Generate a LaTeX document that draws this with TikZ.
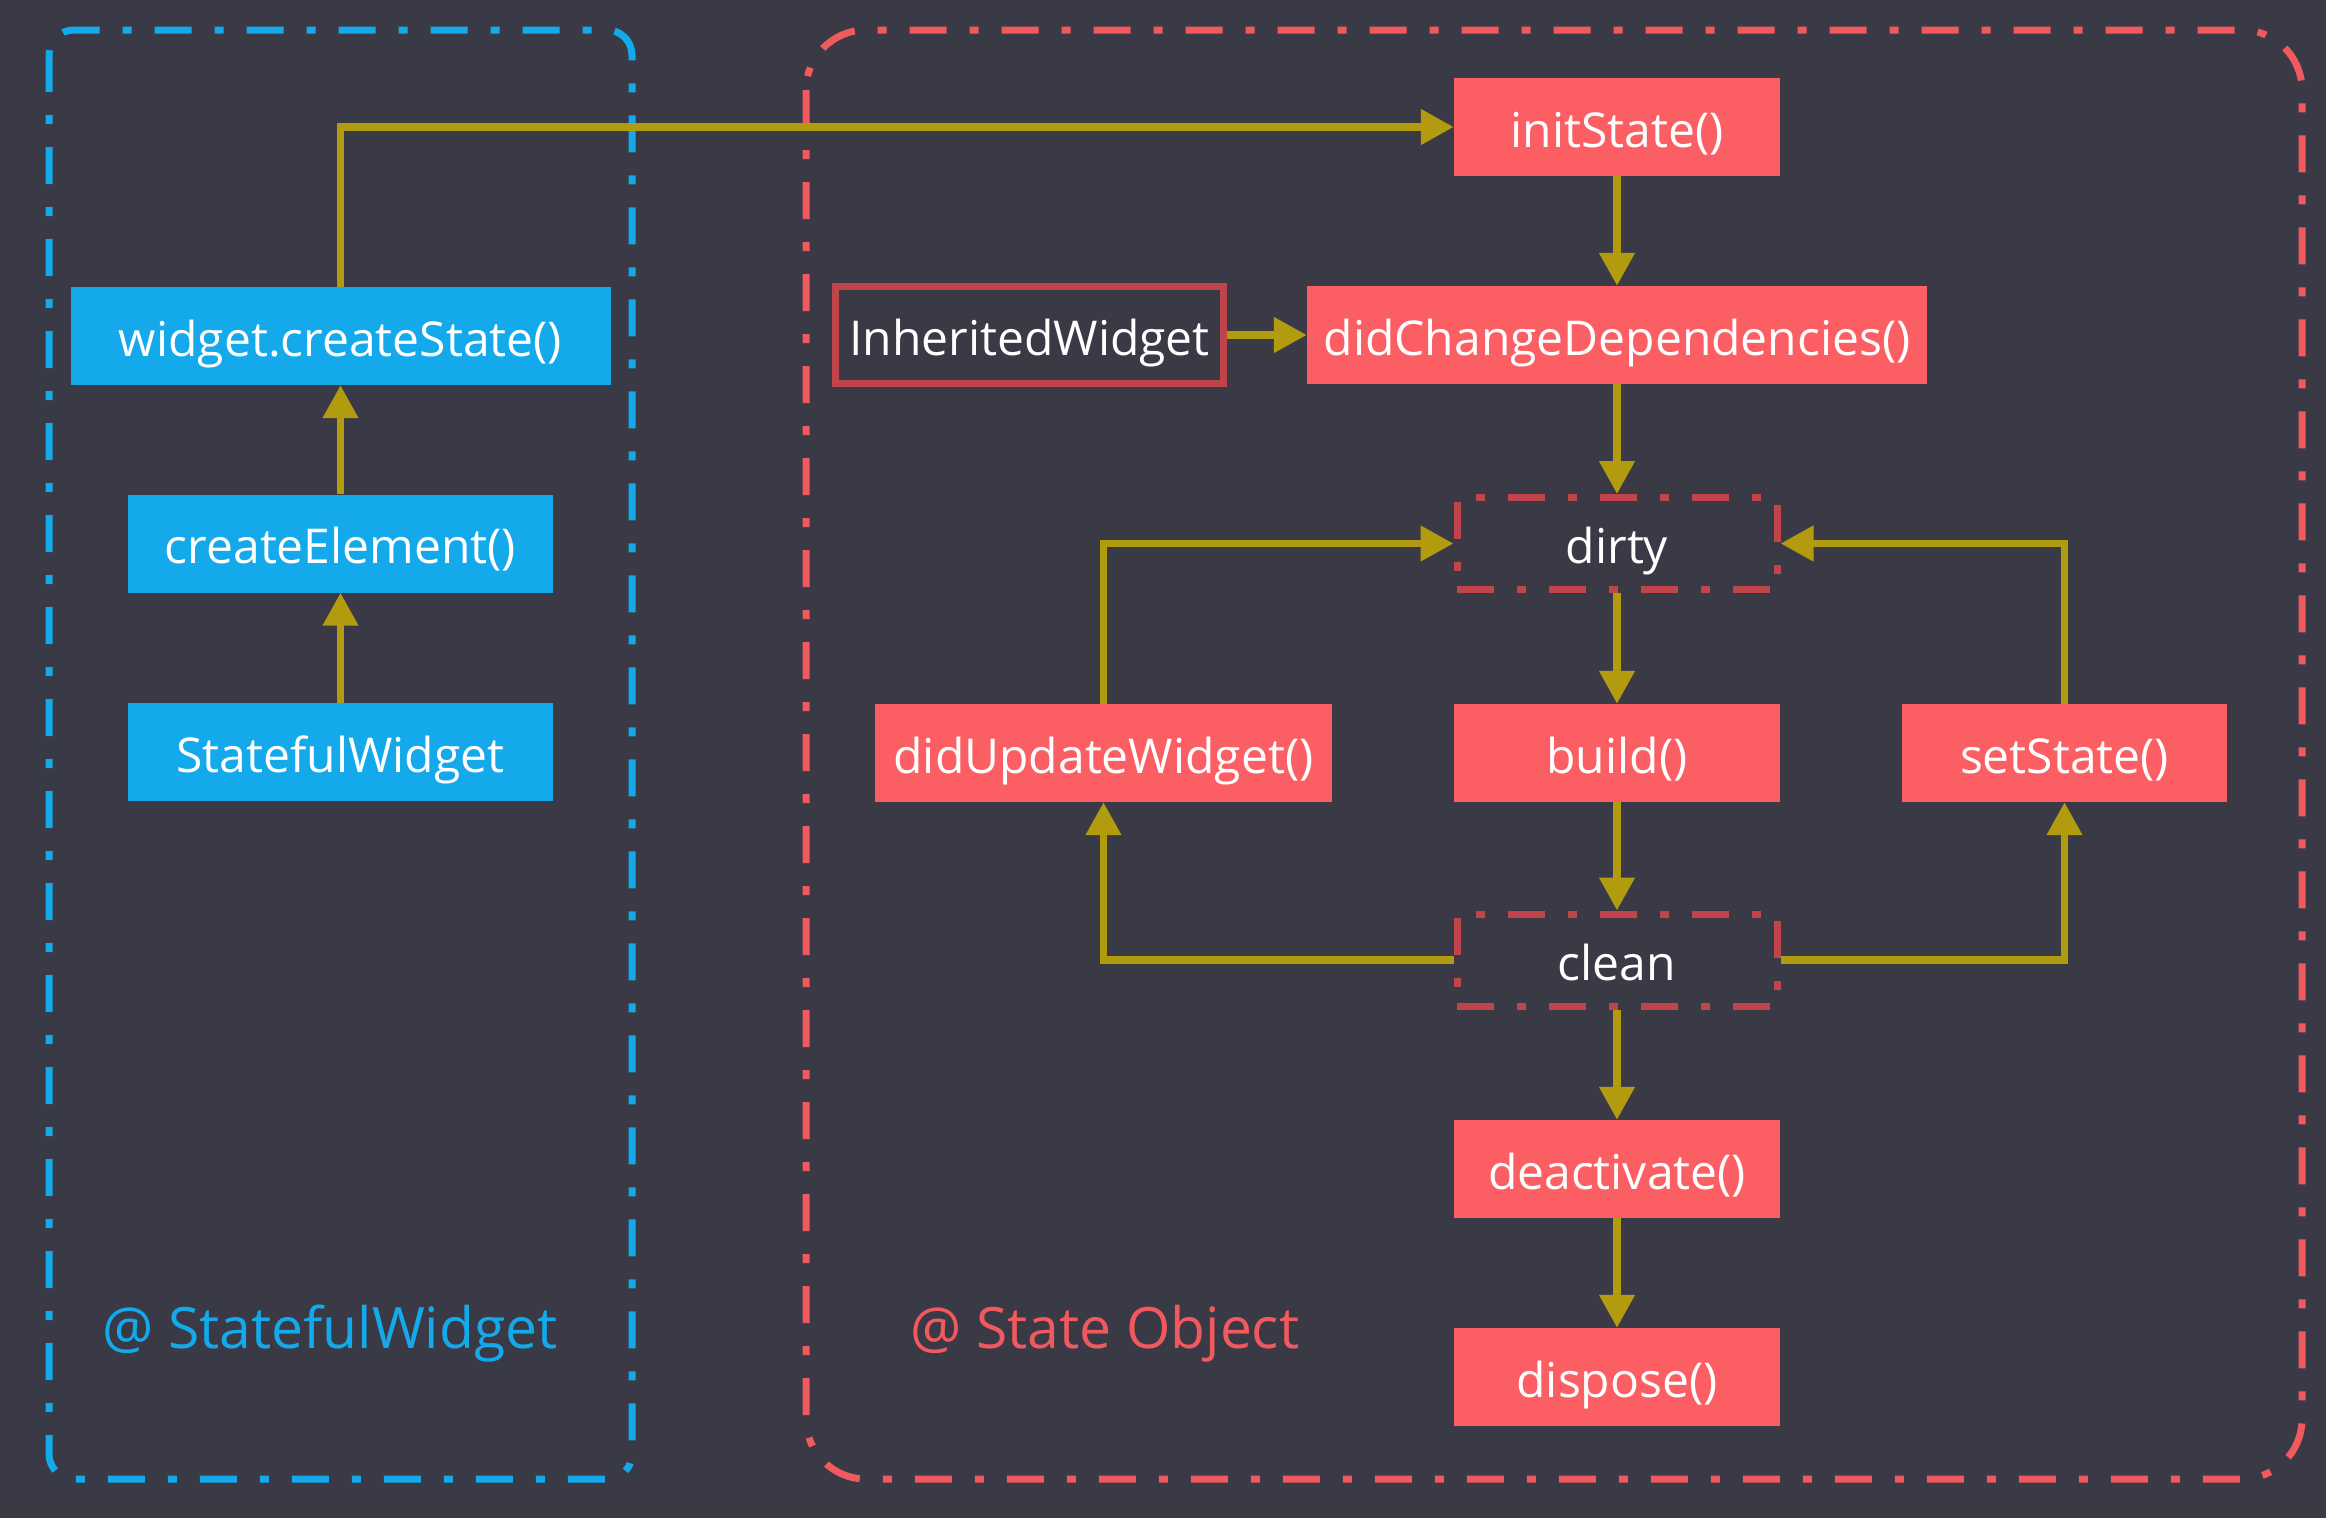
\documentclass[tikz,border=0pt]{standalone}
\usepackage{fontspec}
\setmainfont{Open Sans}
\usetikzlibrary{arrows.meta,positioning}
\definecolor{bgc}{HTML}{393A46}
\definecolor{bluec}{HTML}{14A9EB}
\definecolor{redc}{HTML}{FC5F63}
\definecolor{redline}{HTML}{F0595D}
\definecolor{darkred}{HTML}{C2444B}
\definecolor{goldc}{HTML}{B39B0F}
\tikzset{
  nodetext/.style={text=white, inner sep=0pt, font=\fontsize{48}{52}\selectfont, text height=42pt, text depth=2pt},
  bluebox/.style={nodetext, fill=bluec, minimum height=98pt},
  redbox/.style={nodetext, fill=redc, minimum height=98pt},
  dirtybox/.style={nodetext, draw=darkred, line width=7pt, dash pattern=on 37pt off 23pt on 9pt off 23pt, minimum width=320pt, minimum height=92pt},
  inhbox/.style={nodetext, draw=darkred, line width=7pt, minimum width=388pt, minimum height=97pt},
  flow/.style={draw=goldc, line width=7.5pt, -{Triangle[width=34pt,length=33pt]}},
  container/.style={line width=7pt, dash pattern=on 37pt off 23pt on 9pt off 23pt},
  lbl/.style={font=\fontsize{57}{62}\selectfont, anchor=west, inner sep=0pt}
}
\begin{document}
\begin{tikzpicture}[x=1pt,y=-1pt]
\fill[bgc] (0,0) rectangle (2326,1518);
\useasboundingbox (0,0) rectangle (2326,1518);
% containers
\draw[container, draw=bluec, rounded corners=25pt] (49,30) rectangle (632,1479);
\draw[container, draw=redline, rounded corners=60pt] (806,30) rectangle (2302,1479);
% left nodes
\node[bluebox, minimum width=540pt] (wcs) at (340.5,336) {widget.createState()};
\node[bluebox, minimum width=425pt] (ce) at (340.5,543.5) {createElement()};
\node[bluebox, minimum width=425pt] (sw) at (340.5,752) {StatefulWidget};
% right nodes
\node[redbox, minimum width=326pt] (init) at (1617,127) {initState()};
\node[redbox, minimum width=620pt] (dcd) at (1617,335) {didChangeDependencies()};
\node[inhbox] (inh) at (1029.5,335) {InheritedWidget};
\node[dirtybox] (dirty) at (1617,543.5) {dirty};
\node[redbox, minimum width=457pt] (duw) at (1103.5,753) {didUpdateWidget()};
\node[redbox, minimum width=326pt] (build) at (1617,753) {build()};
\node[redbox, minimum width=325pt] (ss) at (2064.5,753) {setState()};
\node[dirtybox] (clean) at (1617,960) {clean};
\node[redbox, minimum width=326pt] (deact) at (1617,1169) {deactivate()};
\node[redbox, minimum width=326pt] (disp) at (1617,1377) {dispose()};
% labels
\node[lbl, text=bluec] (lsw) at (102,1334) {@ StatefulWidget};
\node[lbl, text=redline] (lso) at (910,1334) {@ State Object};
% connectors
\draw[flow] (wcs.north) |- (init.west);
\draw[flow] (ce.north) -- (wcs.south);
\draw[flow] (sw.north) -- (ce.south);
\draw[flow] (init.south) -- (dcd.north);
\draw[flow] (inh.east) -- (dcd.west);
\draw[flow] (dcd.south) -- (dirty.north);
\draw[flow] (dirty.south) -- (build.north);
\draw[flow] (build.south) -- (clean.north);
\draw[flow] (clean.south) -- (deact.north);
\draw[flow] (deact.south) -- (disp.north);
\draw[flow] (duw.north) |- (dirty.west);
\draw[flow] (ss.north) |- (dirty.east);
\draw[flow] (clean.west) -| (duw.south);
\draw[flow] (clean.east) -| (ss.south);
\end{tikzpicture}
\end{document}
